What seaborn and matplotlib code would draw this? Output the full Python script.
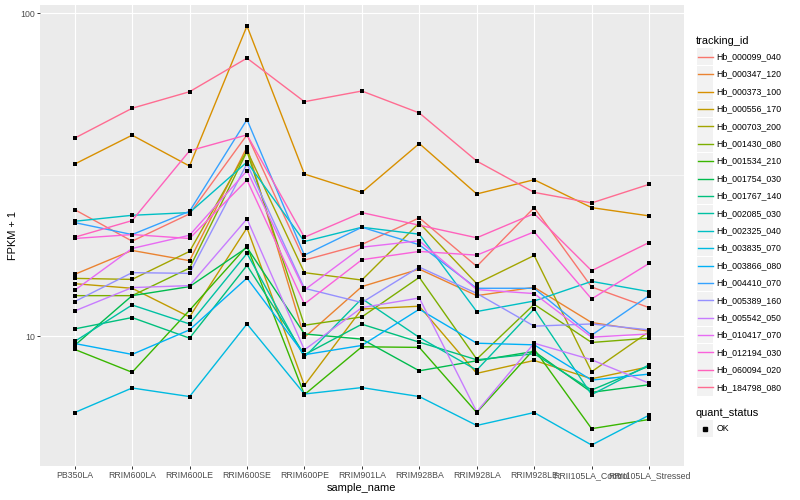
import numpy as np
import pandas as pd
import matplotlib
matplotlib.use("Agg")
import matplotlib.pyplot as plt
import seaborn as sns
from matplotlib.ticker import FixedLocator
from matplotlib.patches import Rectangle
from matplotlib.lines import Line2D

# muestras en el eje x
samples = ["PB350LA", "RRIM600LA", "RRIM600LE", "RRIM600SE", "RRIM600PE",
           "RRIM901LA", "RRIM928BA", "RRIM928LA", "RRIM928LE",
           "RRII105LA_Control", "RRII105LA_Stressed"]

# FPKM + 1, una lista por gen
Hb_000099_040 = [24.66, 19.69, 23.92, 42.02, 17.2, 19.23, 23.25, 16.45, 25.01, 14.2, 12.26]
Hb_000347_120 = [15.54, 18.43, 17.13, 38.5, 9.91, 14.24, 16.13, 13.35, 14.17, 11.02, 10.36]
Hb_000373_100 = [34.12, 41.93, 33.64, 91.37, 31.78, 27.88, 39.5, 27.57, 30.52, 25.01, 23.58]
Hb_000556_170 = [14.54, 14.07, 11.47, 21.65, 7.04, 12.14, 12.38, 7.67, 8.41, 7.38, 8.04]
Hb_000703_200 = [15.1, 14.99, 18.3, 37.58, 15.73, 14.92, 22.43, 14.54, 17.78, 7.76, 10.32]
Hb_001430_080 = [13.35, 13.35, 16.25, 37.32, 10.81, 11.47, 15.21, 8.49, 12.55, 9.56, 9.86]
Hb_001534_210 = [9.1, 7.73, 12.03, 19.0, 6.59, 9.27, 9.23, 5.8, 9.12, 5.17, 5.52]
Hb_001754_030 = [9.36, 13.35, 14.24, 18.82, 10.16, 9.79, 7.81, 8.39, 8.97, 6.7, 7.07]
Hb_001767_140 = [10.53, 11.42, 9.86, 16.56, 8.76, 10.89, 9.58, 8.45, 8.82, 6.81, 8.08]
Hb_002085_030 = [9.63, 12.49, 10.91, 18.04, 8.61, 13.07, 9.91, 7.85, 12.14, 6.59, 8.15]
Hb_002325_040 = [22.69, 23.68, 24.14, 34.61, 19.64, 21.74, 20.69, 11.92, 12.85, 14.78, 13.74]
Hb_003835_070 = [5.8, 6.91, 6.5, 10.91, 6.62, 6.93, 6.5, 5.29, 5.8, 4.6, 5.69]
Hb_003866_080 = [9.49, 8.78, 10.46, 15.13, 8.76, 9.36, 12.12, 9.51, 9.4, 7.31, 7.63]
Hb_004410_070 = [22.48, 20.64, 24.36, 46.85, 17.82, 21.74, 19.19, 14.07, 14.07, 10.07, 13.35]
Hb_005389_160 = [12.8, 15.73, 15.65, 34.19, 14.07, 12.71, 16.36, 13.57, 10.74, 10.91, 10.46]
Hb_005542_050 = [11.97, 14.14, 14.34, 23.08, 9.07, 12.26, 13.13, 5.83, 9.51, 8.45, 7.15]
Hb_010417_070 = [13.87, 18.69, 20.54, 32.53, 13.9, 18.86, 19.74, 13.94, 13.55, 9.93, 10.16]
Hb_012194_030 = [20.07, 20.64, 20.07, 30.45, 12.58, 17.25, 18.3, 17.82, 21.04, 13.04, 16.8]
Hb_060094_020 = [20.25, 22.8, 37.5, 42.02, 20.25, 24.14, 22.06, 20.17, 23.97, 15.95, 19.5]
Hb_184798_080 = [41.05, 50.8, 57.16, 72.63, 53.24, 57.45, 49.13, 34.86, 27.88, 25.86, 29.52]

tracking_ids = ["Hb_000099_040", "Hb_000347_120", "Hb_000373_100", "Hb_000556_170",
                "Hb_000703_200", "Hb_001430_080", "Hb_001534_210", "Hb_001754_030",
                "Hb_001767_140", "Hb_002085_030", "Hb_002325_040", "Hb_003835_070",
                "Hb_003866_080", "Hb_004410_070", "Hb_005389_160", "Hb_005542_050",
                "Hb_010417_070", "Hb_012194_030", "Hb_060094_020", "Hb_184798_080"]
series = [Hb_000099_040, Hb_000347_120, Hb_000373_100, Hb_000556_170, Hb_000703_200,
          Hb_001430_080, Hb_001534_210, Hb_001754_030, Hb_001767_140, Hb_002085_030,
          Hb_002325_040, Hb_003835_070, Hb_003866_080, Hb_004410_070, Hb_005389_160,
          Hb_005542_050, Hb_010417_070, Hb_012194_030, Hb_060094_020, Hb_184798_080]
quant_status = "OK"

# colores estilo ggplot (hue_pal con 20 niveles)
colores = ["#F8766D", "#EA8331", "#D89000", "#C09B00", "#A3A500", "#7CAE00", "#39B600",
           "#00BB4E", "#00BF7D", "#00C1A3", "#00BFC4", "#00BAE0", "#00B0F6", "#35A2FF",
           "#9590FF", "#C77CFF", "#E76BF3", "#FA62DB", "#FF62BC", "#FF6C91"]

filas = []
for tid, vals in zip(tracking_ids, series):
    for s, v in zip(samples, vals):
        filas.append({"tracking_id": tid, "sample_name": s, "fpkm1": v,
                      "pos": samples.index(s)})
data = pd.DataFrame(filas)

plt.rcParams["font.family"] = ["Liberation Sans", "DejaVu Sans"]

W, H = 800, 500
fig = plt.figure(figsize=(8, 5), dpi=100)
ax = fig.add_axes([40.2 / W, 1 - 466 / H, (683.5 - 40.2) / W, (466 - 5) / H])
ax.set_facecolor("#EBEBEB")

sns.lineplot(data=data, x="pos", y="fpkm1", hue="tracking_id", hue_order=tracking_ids,
             palette=colores, estimator=None, sort=False, linewidth=1.0,
             legend=False, ax=ax)
sns.scatterplot(data=data, x="pos", y="fpkm1", color="black", marker="s", s=7,
                linewidth=0, legend=False, ax=ax, zorder=5)

ax.set_yscale("log")
lo = np.log10(data["fpkm1"].min())
hi = np.log10(data["fpkm1"].max())
pad = (hi - lo) * 0.05
ax.set_ylim(10 ** (lo - pad), 10 ** (hi + pad))
ax.set_xlim(-0.6, len(samples) - 0.4)

ax.yaxis.set_major_locator(FixedLocator([10, 100]))
ax.yaxis.set_minor_locator(FixedLocator([10 ** 1.5]))
ax.set_yticklabels(["10", "100"])
ax.yaxis.set_minor_formatter(plt.NullFormatter())
ax.set_xticks(range(len(samples)))
ax.set_xticklabels(samples)

ax.grid(True, which="major", color="white", linewidth=0.8)
ax.grid(True, which="minor", axis="y", color="white", linewidth=0.4)
ax.set_axisbelow(True)
for sp in ax.spines.values():
    sp.set_visible(False)
ax.tick_params(axis="both", which="major", length=2.0, width=0.7, color="#333333",
               labelsize=6.3, labelcolor="#4D4D4D", pad=1.6)
ax.tick_params(axis="y", which="minor", length=0)

ax.set_xlabel("sample_name", fontsize=7.9, labelpad=2)
ax.set_ylabel("FPKM + 1", fontsize=7.9, labelpad=1.5)

# leyenda dibujada a mano al estilo ggplot
def fx(x):
    return x / W

def fy(y):
    return 1 - y / H

fig.text(fx(696), fy(40.7), "tracking_id", fontsize=7.9, va="center", ha="left")
paso = 17.4
for i, (tid, col) in enumerate(zip(tracking_ids, colores)):
    yc = 56.7 + i * paso
    fig.add_artist(Rectangle((fx(696.5), fy(yc + 8.4)), 16.8 / W, 16.8 / H,
                             transform=fig.transFigure, facecolor="#F2F2F2",
                             edgecolor="none"))
    fig.add_artist(Line2D([fx(698), fx(713)], [fy(yc), fy(yc)],
                          transform=fig.transFigure, color=col, linewidth=1.0))
    fig.text(fx(716.5), fy(yc), tid, fontsize=6.3, va="center", ha="left")

fig.text(fx(696), fy(412.7), "quant_status", fontsize=7.9, va="center", ha="left")
yc = 428.7
fig.add_artist(Rectangle((fx(696.5), fy(yc + 8.4)), 16.8 / W, 16.8 / H,
                         transform=fig.transFigure, facecolor="#F2F2F2",
                         edgecolor="none"))
fig.add_artist(Line2D([fx(705)], [fy(yc)], transform=fig.transFigure, marker="s",
                      markersize=2.2, color="black", linestyle="none"))
fig.text(fx(716.5), fy(yc), quant_status, fontsize=6.3, va="center", ha="left")

fig.savefig("out.png", dpi=100, facecolor="white")
